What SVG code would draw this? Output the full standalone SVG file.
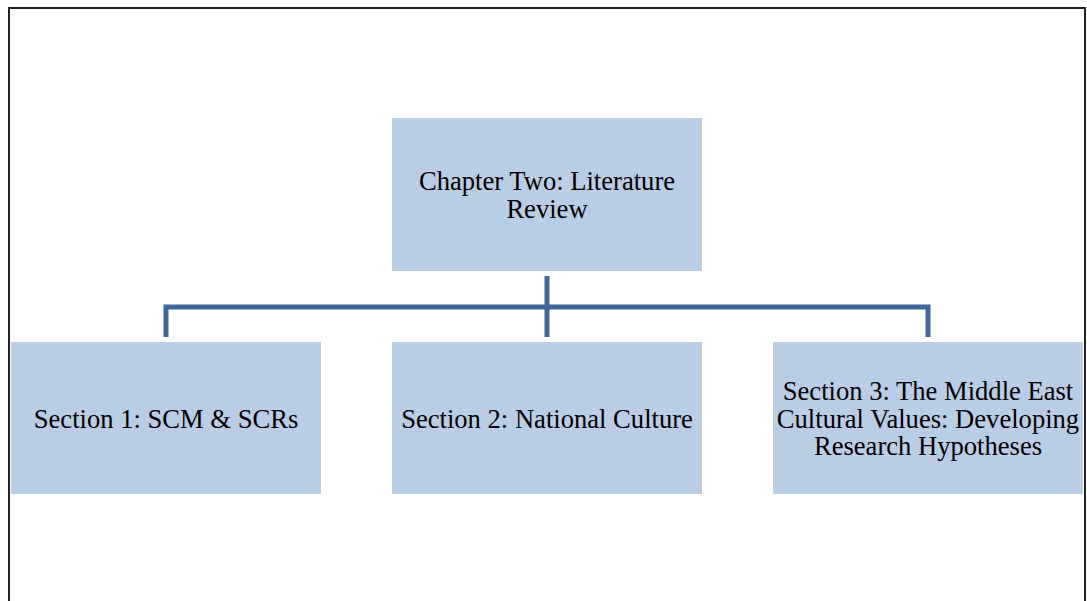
<svg xmlns="http://www.w3.org/2000/svg" width="1087" height="601" viewBox="0 0 1087 601">
  <style>
    .box { fill: #b9cde4; }
    .lbl { font-family: "Liberation Serif", "Times New Roman", serif; font-size: 26.6px; fill: #000; text-anchor: middle; }
    .conn { stroke: #41669a; stroke-width: 5; fill: none; }
  </style>
  <rect width="1087" height="601" fill="#fff"/>
  <!-- page frame, open at the bottom -->
  <path d="M9,601 V8 H1085 V601" fill="none" stroke="#222" stroke-width="2"/>

  <g id="connectors">
    <line class="conn" x1="547" y1="276" x2="547" y2="337"/>
    <path class="conn" d="M166,337 V307 H928 V337"/>
  </g>

  <g id="chapter">
    <rect class="box" x="392" y="118" width="310" height="153"/>
    <text class="lbl" x="547" y="190">Chapter Two: Literature</text>
    <text class="lbl" x="547" y="218">Review</text>
  </g>

  <g id="section1">
    <rect class="box" x="11" y="342" width="310" height="152"/>
    <text class="lbl" x="166" y="428">Section 1: SCM &amp; SCRs</text>
  </g>

  <g id="section2">
    <rect class="box" x="392" y="342" width="310" height="152"/>
    <text class="lbl" x="547" y="428">Section 2: National Culture</text>
  </g>

  <g id="section3">
    <rect class="box" x="773" y="342" width="310" height="152"/>
    <text class="lbl" x="928" y="400">Section 3: The Middle East</text>
    <text class="lbl" x="928" y="428">Cultural Values: Developing</text>
    <text class="lbl" x="928" y="455">Research Hypotheses</text>
  </g>
</svg>
